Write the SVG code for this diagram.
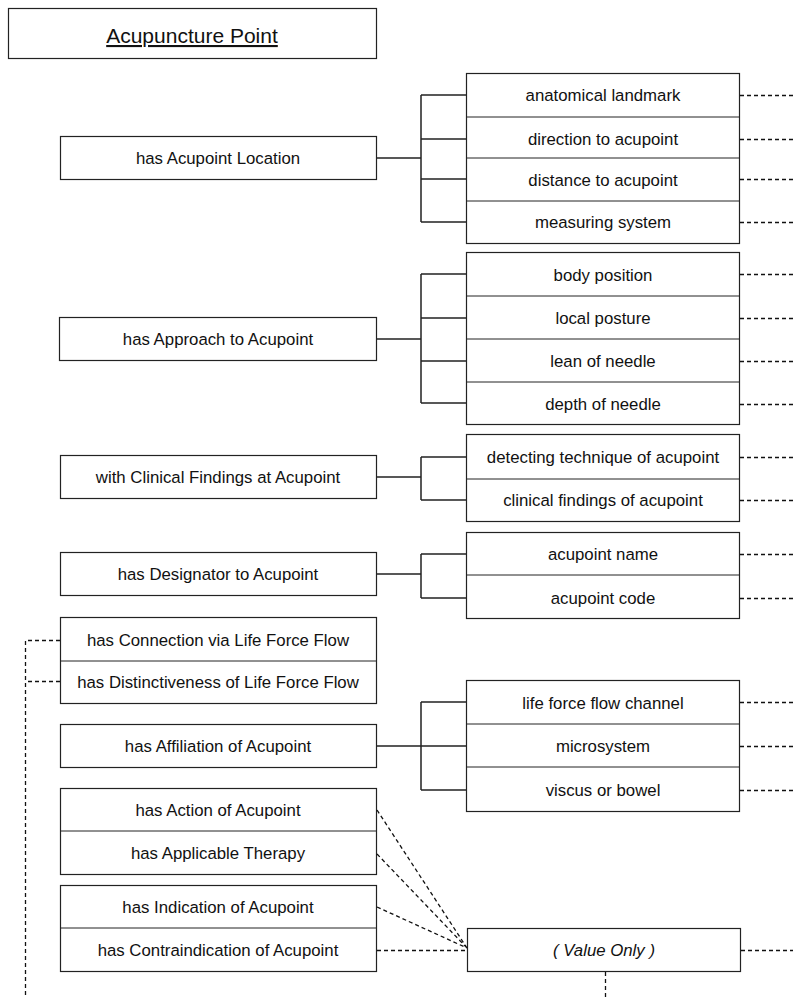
<svg xmlns="http://www.w3.org/2000/svg" width="793" height="998" viewBox="0 0 793 998">
<style>
.box{fill:#fff;stroke:#222;stroke-width:1.2}
.t{font-family:"Liberation Sans",Arial,sans-serif;font-size:16.8px;fill:#111;text-anchor:middle}
.br{fill:none;stroke:#222;stroke-width:1.5}
.d{fill:none;stroke:#111;stroke-width:1.3;stroke-dasharray:4 3}
</style>
<rect width="793" height="998" fill="#fff"/>
<g id="title">
<rect class="box" x="8.5" y="8.5" width="368" height="50"/>
<text class="t" x="192" y="43" style="font-size:21px;text-decoration:underline">Acupuncture Point</text>
</g>
<g id="location">
<rect class="box" x="60.5" y="136.5" width="316" height="43"/>
<text class="t" x="218" y="164">has Acupoint Location</text>
</g>
<g id="location-values">
<rect class="box" x="466.5" y="73.5" width="273" height="170"/>
<line x1="466" y1="117" x2="740" y2="117" stroke="#222"/>
<line x1="466" y1="158" x2="740" y2="158" stroke="#222"/>
<line x1="466" y1="201" x2="740" y2="201" stroke="#222"/>
<text class="t" x="603" y="101">anatomical landmark</text>
<text class="t" x="603" y="145">direction to acupoint</text>
<text class="t" x="603" y="186">distance to acupoint</text>
<text class="t" x="603" y="228">measuring system</text>
</g>
<g id="approach">
<rect class="box" x="59.5" y="317.5" width="317" height="43"/>
<text class="t" x="218" y="345">has Approach to Acupoint</text>
</g>
<g id="approach-values">
<rect class="box" x="466.5" y="252.5" width="273" height="172"/>
<line x1="466" y1="296" x2="740" y2="296" stroke="#222"/>
<line x1="466" y1="339" x2="740" y2="339" stroke="#222"/>
<line x1="466" y1="382" x2="740" y2="382" stroke="#222"/>
<text class="t" x="603" y="281">body position</text>
<text class="t" x="603" y="324">local posture</text>
<text class="t" x="603" y="367">lean of needle</text>
<text class="t" x="603" y="410">depth of needle</text>
</g>
<g id="clinical">
<rect class="box" x="60.5" y="455.5" width="316" height="43"/>
<text class="t" x="218" y="483">with Clinical Findings at Acupoint</text>
</g>
<g id="clinical-values">
<rect class="box" x="466.5" y="434.5" width="273" height="87"/>
<line x1="466" y1="479" x2="740" y2="479" stroke="#222"/>
<text class="t" x="603" y="463">detecting technique of acupoint</text>
<text class="t" x="603" y="506">clinical findings of acupoint</text>
</g>
<g id="designator">
<rect class="box" x="60.5" y="552.5" width="316" height="43"/>
<text class="t" x="218" y="580">has Designator to Acupoint</text>
</g>
<g id="designator-values">
<rect class="box" x="466.5" y="532.5" width="273" height="86"/>
<line x1="466" y1="575" x2="740" y2="575" stroke="#222"/>
<text class="t" x="603" y="560">acupoint name</text>
<text class="t" x="603" y="604">acupoint code</text>
</g>
<g id="lifeforce">
<rect class="box" x="60.5" y="617.5" width="316" height="86"/>
<line x1="60" y1="661" x2="377" y2="661" stroke="#222"/>
<text class="t" x="218" y="646">has Connection via Life Force Flow</text>
<text class="t" x="218" y="688">has Distinctiveness of Life Force Flow</text>
</g>
<g id="affiliation">
<rect class="box" x="60.5" y="724.5" width="316" height="43"/>
<text class="t" x="218" y="752">has Affiliation of Acupoint</text>
</g>
<g id="affiliation-values">
<rect class="box" x="466.5" y="680.5" width="273" height="131"/>
<line x1="466" y1="724" x2="740" y2="724" stroke="#222"/>
<line x1="466" y1="767" x2="740" y2="767" stroke="#222"/>
<text class="t" x="603" y="709">life force flow channel</text>
<text class="t" x="603" y="752">microsystem</text>
<text class="t" x="603" y="796">viscus or bowel</text>
</g>
<g id="action">
<rect class="box" x="60.5" y="788.5" width="316" height="86"/>
<line x1="60" y1="831" x2="377" y2="831" stroke="#222"/>
<text class="t" x="218" y="816">has Action of Acupoint</text>
<text class="t" x="218" y="859">has Applicable Therapy</text>
</g>
<g id="indication">
<rect class="box" x="60.5" y="885.5" width="316" height="86"/>
<line x1="60" y1="928" x2="377" y2="928" stroke="#222"/>
<text class="t" x="218" y="913">has Indication of Acupoint</text>
<text class="t" x="218" y="956">has Contraindication of Acupoint</text>
</g>
<g id="value-only">
<rect class="box" x="467.5" y="928.5" width="273" height="43"/>
<text class="t" x="604" y="956" style="font-style:italic">( Value Only )</text>
</g>
<g id="connectors">
<path class="br" d="M377 158H421M421 95V222M421 95H466M421 139H466M421 179H466M421 222H466"/>
<path class="br" d="M377 339H421M421 274V403M421 274H466M421 318H466M421 361H466M421 403H466"/>
<path class="br" d="M377 477H421M421 457V500M421 457H466M421 500H466"/>
<path class="br" d="M377 574H421M421 554V598M421 554H466M421 598H466"/>
<path class="br" d="M377 746H421M421 702V790M421 702H466M421 746H466M421 790H466"/>
<path class="d" d="M740 95.5H793M740 139.5H793M740 179.5H793M740 222.5H793"/>
<path class="d" d="M740 274.5H793M740 318.5H793M740 361.5H793M740 404.5H793"/>
<path class="d" d="M740 457.5H793M740 500.5H793M740 554.5H793M740 598.5H793"/>
<path class="d" d="M740 702.5H793M740 746.5H793M740 790.5H793M741 950.5H793"/>
<path class="d" d="M60 640.5H25.5V998M60 681.5H25.5"/>
<path class="d" d="M377 810L467 948M377 854L467 948M377 907L467 948M377 950.5H467"/>
<path class="d" d="M605.5 972V998"/>
</g>
</svg>
